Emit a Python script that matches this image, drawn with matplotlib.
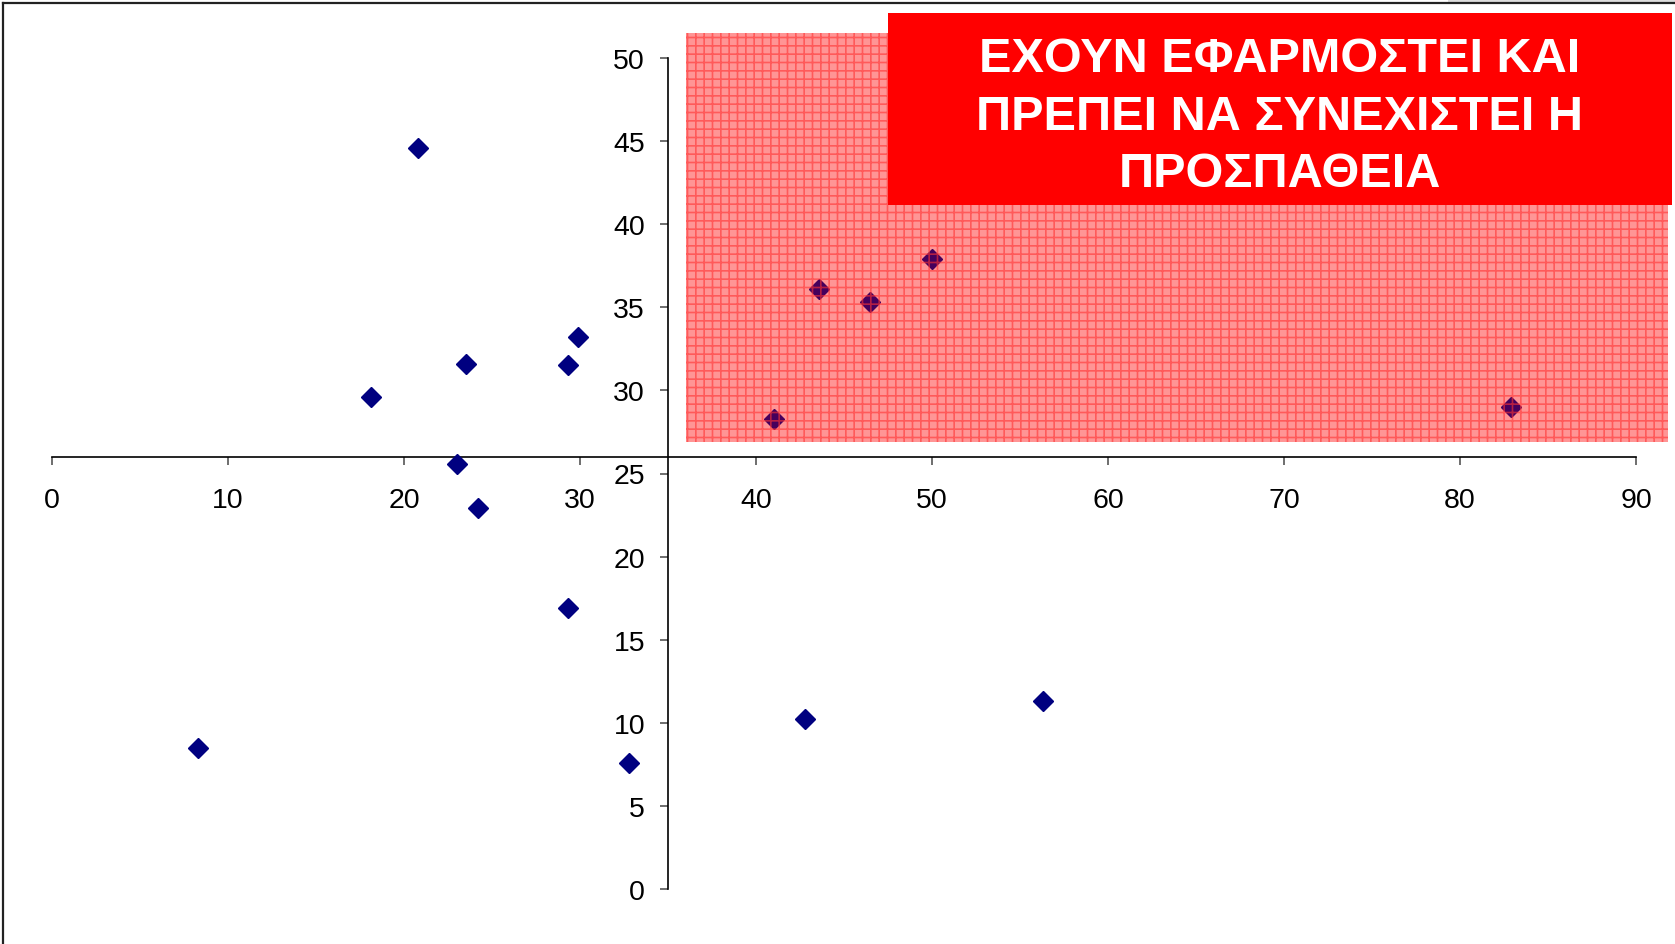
import matplotlib.pyplot as plt
from matplotlib.patches import Rectangle

plt.rcParams['font.family'] = ['Liberation Sans', 'DejaVu Sans']

# scatter data
x_vals = [20.8, 18.1, 23.5, 29.3, 29.9, 23.0, 24.2, 29.3, 8.3, 32.8,
          42.8, 56.3, 41.0, 43.6, 46.5, 50.0, 82.9]
y_vals = [44.6, 29.6, 31.6, 31.5, 33.2, 25.6, 22.9, 16.9, 8.5, 7.6,
          10.2, 11.3, 28.3, 36.1, 35.3, 37.9, 29.0]

x_ticks = [0, 10, 20, 30, 40, 50, 60, 70, 80, 90]
y_ticks = [0, 5, 10, 15, 20, 25, 30, 35, 40, 45, 50]

# shaded zone (data coordinates) and axis crossings
zone_x = (36.0, 91.8)
zone_y = (26.9, 51.5)
cross_x = 35
cross_y = 26

box_text = "ΕΧΟΥΝ ΕΦΑΡΜΟΣΤΕΙ ΚΑΙ\nΠΡΕΠΕΙ ΝΑ ΣΥΝΕΧΙΣΤΕΙ Η\nΠΡΟΣΠΑΘΕΙΑ"

W, H = 1675, 945
fig = plt.figure(figsize=(W / 100, H / 100), dpi=100)
ax = fig.add_axes([52 / W, (H - 890) / H, 1584 / W, 831 / H])
ax.set_xlim(0, 90)
ax.set_ylim(0, 50)
ax.patch.set_visible(False)

# spines crossing in the middle
ax.spines['top'].set_visible(False)
ax.spines['right'].set_visible(False)
ax.spines['left'].set_position(('data', cross_x))
ax.spines['bottom'].set_position(('data', cross_y))
for s in ('left', 'bottom'):
    ax.spines[s].set_linewidth(1.2)
    ax.spines[s].set_color('black')

ax.set_xticks(x_ticks)
ax.set_yticks(y_ticks)
ax.tick_params(axis='x', direction='out', length=5.5, width=1.2, color='#555555',
               labelsize=20.5, pad=16)
ax.tick_params(axis='y', direction='out', length=5.5, width=1.2, color='#555555',
               labelsize=20.5, pad=11)

# pink base under the points
w = zone_x[1] - zone_x[0]
h = zone_y[1] - zone_y[0]
ax.add_patch(Rectangle((zone_x[0], zone_y[0]), w, h, facecolor='#ffcfcf',
                       edgecolor='none', zorder=1, clip_on=False))

ax.plot(x_vals, y_vals, linestyle='none', marker='D', markersize=10,
        color='#000080', zorder=3, clip_on=False)

# red tint + grid hatch on top of the points
plt.rcParams['hatch.linewidth'] = 1.2
ax.add_patch(Rectangle((zone_x[0], zone_y[0]), w, h, facecolor=(1, 0, 0, 0.28),
                       edgecolor=(1, 0.2, 0.2, 0.6), linewidth=0, hatch='++',
                       zorder=4, clip_on=False))

# red label box
fig.patches.append(Rectangle((888 / W, 1 - 206 / H), (1672 - 888) / W, (206 - 14) / H,
                             transform=fig.transFigure, facecolor='#ff0000',
                             edgecolor='none', zorder=5))
fig.text(1280 / W, 1 - 117 / H, box_text, color='white', fontsize=35,
         fontweight='bold', ha='center', va='center', linespacing=1.36, zorder=6)

# outer frame pieces
fig.patches.append(Rectangle((1448 / W, 1 - 3 / H), 1, 3 / H, transform=fig.transFigure,
                             facecolor='#dddddd', edgecolor='none'))
fig.add_artist(plt.Line2D([3 / W, 1], [1 - 4 / H, 1 - 4 / H], color='#222222', lw=1.6))
fig.add_artist(plt.Line2D([3 / W, 3 / W], [0, 1 - 4 / H], color='#222222', lw=1.6))

fig.savefig('out.png', dpi=100)
